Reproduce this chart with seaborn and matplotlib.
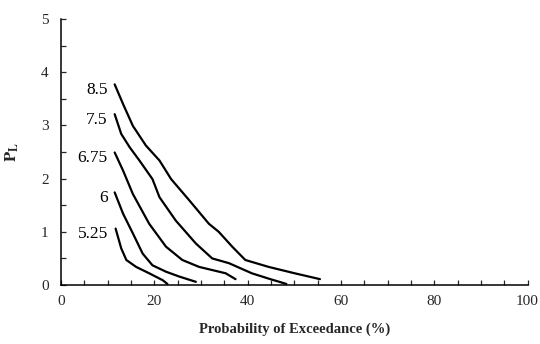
import numpy as np
import pandas as pd
import matplotlib
matplotlib.use("Agg")
import matplotlib.pyplot as plt
from matplotlib.ticker import MultipleLocator
import seaborn as sns

# Exceedance curves, one per magnitude
magnitudes = ["8.5", "7.5", "6.75", "6", "5.25"]

x_85 = [11.5, 13.3, 15.4, 18.2, 21.1, 23.6, 27.5, 31.7, 33.8, 36.7, 39.5, 44.5, 50.1, 55.5]
y_85 = [3.77, 3.40, 2.99, 2.62, 2.34, 1.99, 1.59, 1.15, 1.00, 0.72, 0.47, 0.34, 0.22, 0.11]

x_75 = [11.5, 12.9, 14.7, 16.8, 19.6, 21.1, 24.6, 28.9, 32.4, 36.0, 40.9, 44.5, 48.3]
y_75 = [3.21, 2.84, 2.59, 2.34, 1.99, 1.65, 1.21, 0.78, 0.50, 0.41, 0.22, 0.12, 0.02]

x_675 = [11.5, 13.3, 15.4, 18.9, 22.5, 26.0, 29.6, 35.3, 37.4]
y_675 = [2.49, 2.15, 1.71, 1.15, 0.72, 0.47, 0.34, 0.22, 0.11]

x_6 = [11.5, 13.3, 15.4, 17.5, 19.6, 22.5, 25.3, 28.9]
y_6 = [1.74, 1.34, 0.97, 0.59, 0.37, 0.25, 0.16, 0.06]

x_525 = [11.7, 12.9, 14.0, 16.1, 18.9, 21.8, 22.8]
y_525 = [1.06, 0.69, 0.47, 0.34, 0.22, 0.09, 0.02]

x_ticks = [0, 20, 40, 60, 80, 100]
y_ticks = [0, 1, 2, 3, 4, 5]

series = {
    "8.5": (x_85, y_85),
    "7.5": (x_75, y_75),
    "6.75": (x_675, y_675),
    "6": (x_6, y_6),
    "5.25": (x_525, y_525),
}

frames = []
for m in magnitudes:
    xs, ys = series[m]
    frames.append(pd.DataFrame({"pe": xs, "pl": ys, "mag": m}))
df = pd.concat(frames, ignore_index=True)

sns.set_style("ticks")
plt.rcParams["font.family"] = ["Liberation Serif", "DejaVu Serif"]
plt.rcParams["mathtext.fontset"] = "stix"

fig = plt.figure(figsize=(5.4, 3.44), dpi=100)
ax = fig.add_axes([0.113, 0.1715, 0.864, 0.7735])

sns.lineplot(
    data=df, x="pe", y="pl", hue="mag", hue_order=magnitudes,
    palette=["black"] * len(magnitudes), sort=False, estimator=None,
    units="mag", linewidth=1.6, legend=False, ax=ax,
)

for m in magnitudes:
    xs, ys = series[m]
    ax.annotate(m, xy=(xs[0], ys[0]), xytext=(-5, -4), textcoords="offset points",
                ha="right", va="center", fontsize=12.5, color="black")

ax.set_xlim(0, 100)
ax.set_ylim(0, 5)
ax.set_xticks(x_ticks)
ax.set_yticks(y_ticks)
ax.xaxis.set_minor_locator(MultipleLocator(5))
ax.yaxis.set_minor_locator(MultipleLocator(0.5))
ax.tick_params(which="both", direction="in", length=3.5, width=0.9, labelsize=11, pad=7)
ax.tick_params(axis="y", pad=9)

sns.despine(ax=ax)
for side in ("left", "bottom"):
    ax.spines[side].set_linewidth(1.1)
    ax.spines[side].set_color("black")

ax.set_xlabel("Probability of Exceedance (%)", fontsize=10.5, fontweight="bold", labelpad=11)
ax.set_ylabel(r"$\mathbf{P}_\mathbf{L}$", fontsize=12, labelpad=14)

fig.savefig("out.png", dpi=100)
